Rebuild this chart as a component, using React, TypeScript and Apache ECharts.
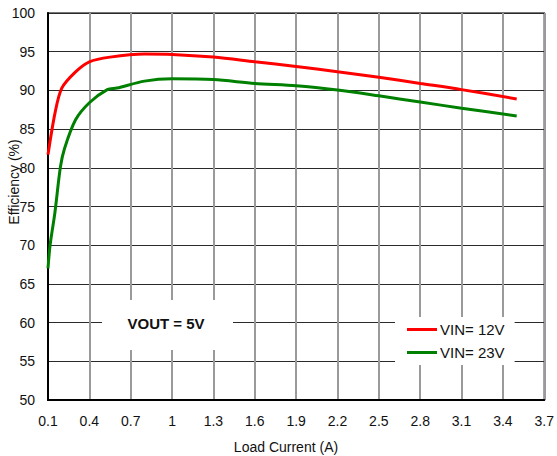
import React, { useEffect, useRef } from "react";
import * as echarts from "echarts";

// Efficiency vs. load current, VOUT = 5V
const currentVin12 = [0.1, 0.15, 0.2, 0.3, 0.4, 0.55, 0.8, 1.0, 1.3, 1.6, 1.9, 2.2, 2.5, 2.8, 3.1, 3.5];
const efficiencyVin12 = [81.7, 87.0, 90.3, 92.4, 93.7, 94.3, 94.7, 94.65, 94.3, 93.7, 93.1, 92.4, 91.7, 90.9, 90.1, 88.9];

const currentVin23 = [0.1, 0.115, 0.15, 0.19, 0.22, 0.3, 0.4, 0.53, 0.6, 0.8, 1.0, 1.3, 1.6, 1.9, 2.2, 2.5, 2.8, 3.1, 3.5];
const efficiencyVin23 = [67.0, 70.0, 74.2, 80.1, 82.5, 86.2, 88.4, 90.1, 90.3, 91.2, 91.5, 91.4, 90.9, 90.6, 90.05, 89.3, 88.5, 87.7, 86.7];

const seriesNames = ["VIN= 12V", "VIN= 23V"];
const seriesColors = ["#ff0000", "#008000"];

// x axis starts at 0.1 A with 0.3 A steps; the axis runs on an offset scale so ticks land on 0.1, 0.4, ...
const X_START = 0.1;
const X_END = 3.7;
const X_STEP = 0.3;

const FONT = "'Liberation Sans', Arial, sans-serif";

const toPairs = (xs: number[], ys: number[]) => xs.map((x, i) => [x - X_START, ys[i]]);

export default function App() {
  const ref = useRef<HTMLDivElement>(null);

  useEffect(() => {
    if (!ref.current) return;
    const chart = echarts.init(ref.current, undefined, { renderer: "svg" });
    chart.setOption({
      animation: false,
      backgroundColor: "#ffffff",
      grid: {
        left: 48,
        right: 12,
        top: 13,
        bottom: 56,
        show: true,
        borderColor: "#4a4a4a",
        borderWidth: 1.5,
      },
      xAxis: {
        type: "value",
        min: 0,
        max: X_END - X_START,
        interval: X_STEP,
        axisLine: { show: true, lineStyle: { color: "#000", width: 2 } },
        axisTick: { show: false },
        axisLabel: {
          margin: 14,
          fontFamily: FONT,
          fontSize: 14,
          color: "#111",
          formatter: (v: number) => String(+(v + X_START).toFixed(1)),
        },
        splitLine: { show: true, lineStyle: { color: "#9a9a9a", width: 2 } },
      },
      yAxis: {
        type: "value",
        min: 50,
        max: 100,
        interval: 5,
        axisLine: { show: true, lineStyle: { color: "#000", width: 2 } },
        axisTick: { show: false },
        axisLabel: {
          margin: 13,
          fontFamily: FONT,
          fontSize: 14,
          color: "#111",
        },
        splitLine: { show: true, lineStyle: { color: "#2a2a2a", width: 1 } },
      },
      legend: {
        orient: "vertical",
        left: 395,
        top: 317,
        width: 132,
        padding: [5, 10, 5, 12],
        itemGap: 8,
        itemWidth: 30,
        itemHeight: 3,
        icon: "rect",
        backgroundColor: "#ffffff",
        textStyle: { fontFamily: FONT, fontSize: 15, color: "#111", padding: [0, 0, 0, -2] },
        data: seriesNames,
      },
      graphic: [
        {
          type: "rect",
          shape: { x: 102, y: 300, width: 131, height: 50 },
          style: { fill: "#ffffff" },
          z: 3,
        },
        {
          type: "text",
          x: 166,
          y: 323,
          z: 4,
          style: {
            text: "VOUT = 5V",
            fontFamily: FONT,
            fontSize: 15,
            fontWeight: "bold",
            fill: "#111",
            align: "center",
            verticalAlign: "middle",
          },
        },
        {
          type: "text",
          x: 14,
          y: 182,
          rotation: Math.PI / 2,
          style: {
            text: "Efficiency (%)",
            fontFamily: FONT,
            fontSize: 14,
            fill: "#111",
            align: "center",
            verticalAlign: "middle",
          },
        },
        {
          type: "text",
          x: 286,
          y: 447,
          style: {
            text: "Load Current (A)",
            fontFamily: FONT,
            fontSize: 14,
            fill: "#111",
            align: "center",
            verticalAlign: "middle",
          },
        },
      ],
      series: [
        {
          name: seriesNames[0],
          type: "line",
          smooth: 0.3,
          showSymbol: false,
          color: seriesColors[0],
          lineStyle: { width: 3, color: seriesColors[0] },
          data: toPairs(currentVin12, efficiencyVin12),
        },
        {
          name: seriesNames[1],
          type: "line",
          smooth: 0.3,
          showSymbol: false,
          color: seriesColors[1],
          lineStyle: { width: 3, color: seriesColors[1] },
          data: toPairs(currentVin23, efficiencyVin23),
        },
      ],
    });
    return () => chart.dispose();
  }, []);

  return (
    <div
      ref={ref}
      style={{ position: "fixed", left: 0, top: 0, width: 557, height: 456 }}
    />
  );
}
